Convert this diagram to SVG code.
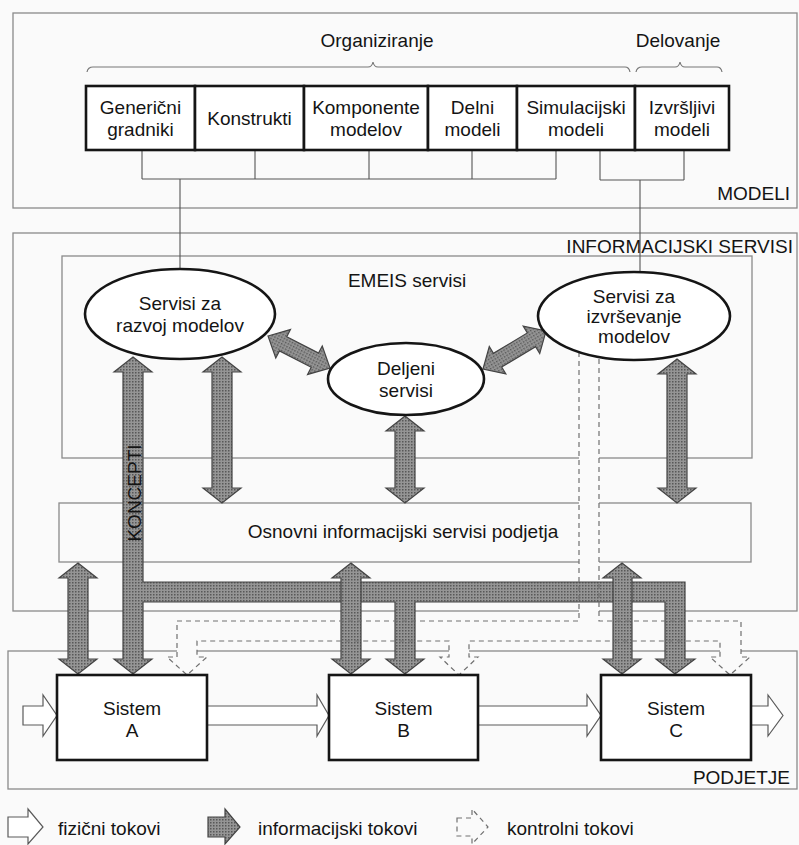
<svg xmlns="http://www.w3.org/2000/svg" width="799" height="845" viewBox="0 0 799 845">
<style>
.t{font-family:"Liberation Sans",Arial,sans-serif;font-size:19px;fill:#141414;text-anchor:middle}
.te{font-family:"Liberation Sans",Arial,sans-serif;font-size:19px;fill:#141414;text-anchor:end}
.ts{font-family:"Liberation Sans",Arial,sans-serif;font-size:19px;fill:#141414}
.cont{fill:none;stroke:#8a8a8a;stroke-width:1.3}
.box{fill:#fff;stroke:#151515;stroke-width:2.6}
.ell{fill:#fff;stroke:#151515;stroke-width:2.6}
.thin{fill:none;stroke:#555;stroke-width:1.1}
.brace{fill:none;stroke:#777;stroke-width:1.2}
.info{fill:url(#ht);stroke:#444;stroke-width:1.2;stroke-linejoin:miter}
.phys{fill:#fff;stroke:#5a5a5a;stroke-width:1.2}
.ctrl{fill:none;stroke:#707070;stroke-width:1.2;stroke-dasharray:5 4}
.ctrlfill{fill:#fafafa;stroke:none}
</style>
<defs>
<pattern id="ht" width="3" height="3" patternUnits="userSpaceOnUse">
<rect width="3" height="3" fill="#959595"/>
<rect width="1.5" height="1.5" fill="#585858"/>
</pattern>
</defs>
<rect width="799" height="845" fill="#fafafa"/>

<g id="modeli-container">
<rect class="cont" x="13" y="13" width="784" height="195"/>
<text class="te" x="790" y="200">MODELI</text>
</g>
<g id="informacijski-servisi-container">
<rect class="cont" x="13" y="233" width="784" height="378"/>
<text class="te" x="793" y="253">INFORMACIJSKI SERVISI</text>
</g>
<g id="emeis-container">
<rect class="cont" x="62" y="256" width="690" height="202"/>
<text class="t" x="407" y="287">EMEIS servisi</text>
</g>
<g id="osnovni-servisi">
<rect class="cont" x="59" y="503" width="692" height="59"/>
<text class="t" x="403" y="538">Osnovni informacijski servisi podjetja</text>
</g>
<g id="podjetje-container">
<rect class="cont" x="8" y="651" width="789" height="138"/>
<text class="te" x="790" y="784">PODJETJE</text>
</g>

<g id="braces">
<path class="brace" d="M87,72 Q88,67 93,67 H368 Q372,67 373,62 Q374,67 378,67 H625 Q629,67 630,72"/>
<text class="t" x="377" y="47">Organiziranje</text>
<path class="brace" d="M636,72 Q637,67 642,67 H675 Q679,67 680,62 Q681,67 685,67 H717 Q721,67 722,72"/>
<text class="t" x="678" y="47">Delovanje</text>
</g>

<g id="connectors">
<path class="thin" d="M142,150 V179 M255,150 V179 M369,150 V179 M472,150 V179 M556,150 V179 M142,179 H556 M180,179 V270"/>
<path class="thin" d="M600,150 V180 M684,150 V180 M600,180 H684 M640,180 V273"/>
<path class="ctrlfill" d="M579,352 V621 H177 V657 H167 L187,675 L207,657 H197 V641 H449 V657 H440 L459,675 L478,657 H469 V641 H720 V657 H710 L730,675 L750,657 H741 V621 H599 V357 Z"/>
<polygon class="info" points="133,357 152,372 143,372 143,582 685,582 685,659 695,659 675,674 656,659 665,659 665,602 415,602 415,659 424,659 405,674 386,659 395,659 395,602 143,602 143,659 152,659 133,674 114,659 123,659 123,372 114,372"/>
<polygon class="info" points="222,357 241,372 232,372 232,488 241,488 222,503 203,488 212,488 212,372 203,372"/>
<polygon class="info" points="405,416 424,431 415,431 415,488 424,488 405,503 386,488 395,488 395,431 386,431"/>
<polygon class="info" points="677,359 696,374 687,374 687,488 696,488 677,503 658,488 667,488 667,374 658,374"/>
<polygon class="info" points="78,563 97,578 88,578 88,659 97,659 78,674 59,659 68,659 68,578 59,578"/>
<polygon class="info" points="351,563 370,578 361,578 361,659 370,659 351,674 332,659 341,659 341,578 332,578"/>
<polygon class="info" points="622,563 641,578 632,578 632,659 641,659 622,674 603,659 613,659 613,578 603,578"/>
<polygon class="info" transform="translate(268,336) rotate(27.3)" points="0,0 17,-16 17,-8 52.8,-8 52.8,-16 69.8,0 52.8,16 52.8,8 17,8 17,16"/>
<polygon class="info" transform="translate(483,369) rotate(-31.1)" points="0,0 17,-16 17,-8 56.6,-8 56.6,-16 73.6,0 56.6,16 56.6,8 17,8 17,16"/>
<path class="ctrl" d="M579,352 V621 H177 V657 H167 L187,675 L207,657 H197 V641 H449 V657 H440 L459,675 L478,657 H469 V641 H720 V657 H710 L730,675 L750,657 H741 V621 H599 V357"/>
<polygon class="phys" points="23,706 43,706 43,695 57,715.5 43,736 43,725 23,725"/>
<polygon class="phys" points="207,706 317,706 317,695 329,715.5 317,736 317,725 207,725"/>
<polygon class="phys" points="478,706 587,706 587,695 601,715.5 587,736 587,725 478,725"/>
<polygon class="phys" points="751,706 768,706 768,695 783,715.5 768,736 768,725 751,725"/>
<text class="t" transform="translate(140.5,493) rotate(-90)">KONCEPTI</text>
</g>

<g id="model-genericni-gradniki">
<rect class="box" x="86" y="86" width="109" height="64"/>
<text class="t" x="140.5" y="114">Generični</text>
<text class="t" x="140.5" y="136">gradniki</text>
</g>
<g id="model-konstrukti">
<rect class="box" x="195" y="86" width="109" height="64"/>
<text class="t" x="249.5" y="125">Konstrukti</text>
</g>
<g id="model-komponente-modelov">
<rect class="box" x="304" y="86" width="124" height="64"/>
<text class="t" x="366" y="114">Komponente</text>
<text class="t" x="366" y="136">modelov</text>
</g>
<g id="model-delni-modeli">
<rect class="box" x="428" y="86" width="89" height="64"/>
<text class="t" x="472.5" y="114">Delni</text>
<text class="t" x="472.5" y="136">modeli</text>
</g>
<g id="model-simulacijski-modeli">
<rect class="box" x="517" y="86" width="118" height="64"/>
<text class="t" x="576" y="114">Simulacijski</text>
<text class="t" x="576" y="136">modeli</text>
</g>
<g id="model-izvrsljivi-modeli">
<rect class="box" x="635" y="86" width="94" height="64"/>
<text class="t" x="682" y="114">Izvršljivi</text>
<text class="t" x="682" y="136">modeli</text>
</g>

<g id="servisi-razvoj">
<ellipse class="ell" cx="180" cy="314" rx="95" ry="45"/>
<text class="t" x="180" y="310">Servisi za</text>
<text class="t" x="180" y="332">razvoj modelov</text>
</g>
<g id="deljeni-servisi">
<ellipse class="ell" cx="406" cy="379" rx="78" ry="36"/>
<text class="t" x="406" y="375">Deljeni</text>
<text class="t" x="406" y="397">servisi</text>
</g>
<g id="servisi-izvrsevanje">
<ellipse class="ell" cx="634" cy="316" rx="96" ry="44"/>
<text class="t" x="634" y="303">Servisi za</text>
<text class="t" x="634" y="323">izvrševanje</text>
<text class="t" x="634" y="343">modelov</text>
</g>

<g id="sistem-a">
<rect class="box" x="57" y="675" width="150" height="85"/>
<text class="t" x="132" y="715">Sistem</text>
<text class="t" x="132" y="737">A</text>
</g>
<g id="sistem-b">
<rect class="box" x="329" y="675" width="149" height="85"/>
<text class="t" x="403.5" y="715">Sistem</text>
<text class="t" x="403.5" y="737">B</text>
</g>
<g id="sistem-c">
<rect class="box" x="601" y="675" width="150" height="85"/>
<text class="t" x="676" y="715">Sistem</text>
<text class="t" x="676" y="737">C</text>
</g>

<g id="legend">
<polygon class="phys" points="8,817 28,817 28,809 43,827 28,844 28,837 8,837"/>
<text class="ts" x="58" y="835">fizični tokovi</text>
<polygon class="info" points="208,817 225,817 225,809 240,827 225,844 225,837 208,837"/>
<text class="ts" x="258" y="835">informacijski tokovi</text>
<path class="ctrl" d="M457,818 H472 V809 L488,827 L472,844 V836 H457 Z"/>
<text class="ts" x="507" y="835">kontrolni tokovi</text>
</g>
</svg>
